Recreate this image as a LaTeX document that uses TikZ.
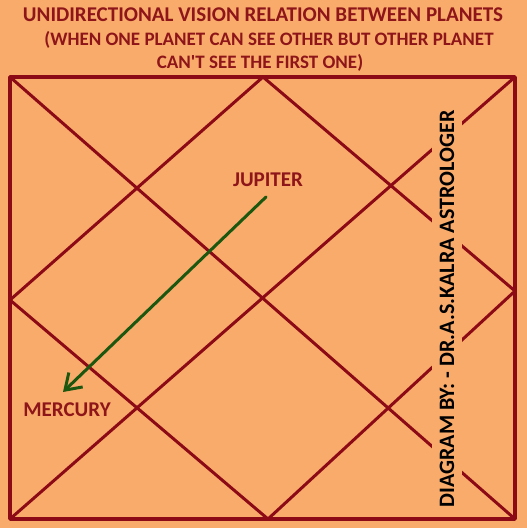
\documentclass[tikz,border=0pt]{standalone}
\usepackage{fontspec}
\setmainfont{Carlito}
\usetikzlibrary{arrows.meta,positioning}
\definecolor{chartbg}{HTML}{F8AB6A}
\definecolor{maroon}{HTML}{8B0A16}
\definecolor{planetred}{HTML}{8E1519}
\definecolor{visiongreen}{HTML}{1C5710}

\begin{document}
\begin{tikzpicture}[x=1pt,y=-1pt,line join=round,
    chart/.style={draw=maroon,line width=3pt},
    frame/.style={draw=maroon,line width=3.8pt},
    vision/.style={draw=visiongreen,line width=3pt,line cap=round,-{Straight Barb[length=15pt,width=20pt,line width=3pt]}},
    heading/.style={text=planetred,font=\bfseries\fontsize{21}{24}\selectfont,inner sep=0pt},
    subheading/.style={text=planetred,font=\bfseries\fontsize{19}{22}\selectfont,inner sep=0pt},
    planet/.style={text=planetred,font=\bfseries\fontsize{21}{24}\selectfont,inner sep=0pt},
    credit/.style={text=black,fill=chartbg,font=\bfseries\fontsize{22}{25}\selectfont,rotate=90,minimum height=30pt,inner xsep=2pt}]
        \useasboundingbox[fill=chartbg] (0,0) rectangle (527,528);

        % corners and middles of the chart
        \coordinate (tl) at (10,77);
        \coordinate (tr) at (515,77);
        \coordinate (br) at (515,519);
        \coordinate (bl) at (10,519);
        \coordinate (topm) at (263,77);
        \coordinate (rightm) at (515,291);
        \coordinate (botm) at (268,519);
        \coordinate (leftm) at (10,300);

        \node[heading]    (head) at (263,15) {UNIDIRECTIONAL VISION RELATION BETWEEN PLANETS};
        \node[subheading] (sub1) at (269,40) {(WHEN ONE PLANET CAN SEE OTHER BUT OTHER PLANET};
        \node[subheading] (sub2) at (260,63) {CAN\textquotesingle T SEE THE FIRST ONE)};

        \draw[chart] (tl) -- (br) (tr) -- (bl);
        \draw[chart] (topm) -- (rightm) -- (botm) -- (leftm) -- cycle;
        \draw[frame] (tl) rectangle (br);

        \node[planet] (jupiter) at (268,180) {JUPITER};
        \node[planet] (mercury) at (67,410) {MERCURY};
        \coordinate (jupfoot) at (266,197);
        \coordinate (mertip) at (63,392);
        \draw[vision] (jupfoot) -- (mertip);

        \node[credit] (author) at (447,309) {DIAGRAM BY: - DR.A.S.KALRA ASTROLOGER};
    \end{tikzpicture}
\end{document}
